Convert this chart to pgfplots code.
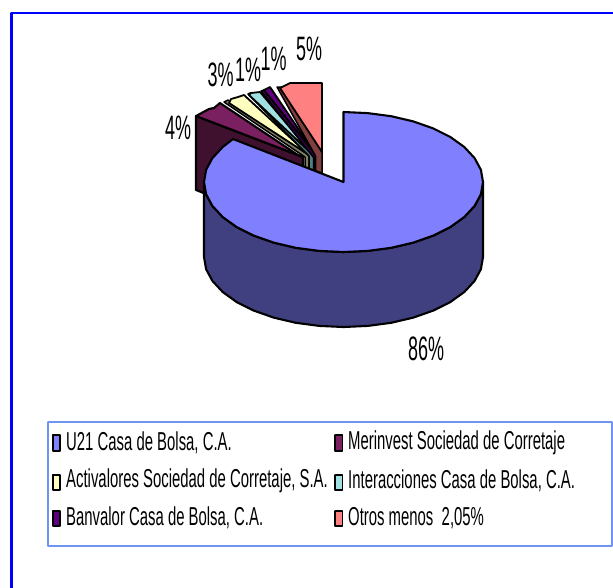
\documentclass[border=0pt]{standalone}
\usepackage{pgfplots}
\pgfplotsset{compat=1.18}
\usepackage{fontspec}
\setmainfont{Liberation Sans}
\newfontfamily\lab[FakeStretch=0.53]{Liberation Sans}
\newfontfamily\leg[FakeStretch=0.575]{Liberation Sans}
\definecolor{blueT}{HTML}{8080FF}
\definecolor{blueS}{HTML}{404080}
\definecolor{merT}{HTML}{7A1F5F}
\definecolor{merS}{HTML}{40102F}
\definecolor{actT}{HTML}{FFFFC0}
\definecolor{actS}{HTML}{808060}
\definecolor{intT}{HTML}{A0E0E0}
\definecolor{intS}{HTML}{508080}
\definecolor{banT}{HTML}{600080}
\definecolor{banS}{HTML}{300040}
\definecolor{otrT}{HTML}{FF8080}
\definecolor{otrS}{HTML}{804040}
\definecolor{legF}{HTML}{7094F5}
\begin{document}
\begin{tikzpicture}
\useasboundingbox (0,0) rectangle (613bp,-588bp);
\begin{axis}[at={(0,0)},anchor=north west,scale only axis,width=613bp,height=588bp,
  xmin=0,xmax=613,ymin=0,ymax=588,y dir=reverse,hide axis,
  every axis plot/.append style={no markers,line join=round,line cap=round}]
% outer frame
\addplot[draw=blue,line width=2.6pt] coordinates {(11.5,588) (11.5,13) (613,13)};
% Merinvest
\addplot[fill=merS,draw=black,line width=2.1pt] coordinates {(196,116) (196,190) (206,194) (303,172) (303,157) (196,116)};
\addplot[fill=merT,draw=black,line width=2.1pt] coordinates {(196,116) (209,109) (214,108) (220,103) (298,155) (303,157) (196,116)};
% Activalores
\addplot[fill=actS,draw=black,line width=1.5pt] coordinates {(224,102) (305,157) (305,170) (309,170) (309,155) (228,100) (224,102)};
\addplot[fill=actT,draw=black,line width=1.8pt] coordinates {(229,103) (231,99) (238,97) (244,95) (309,155) (229,103)};
% Interacciones
\addplot[fill=intS,draw=black,line width=1.5pt] coordinates {(248,94) (309,156) (309,172) (313.5,172) (313.5,155) (250,93) (248,94)};
\addplot[fill=intT,draw=black,line width=1.8pt] coordinates {(249,95) (251,93) (260,92) (313,155) (249,95)};
% Banvalor
\addplot[fill=banS,draw=black,line width=1.5pt] coordinates {(261,91) (314,158) (314,172) (316,172) (316,155) (270,88) (261,91)};
\addplot[fill=banT,draw=black,line width=1.8pt] coordinates {(264,90) (270,87) (316,155) (264,90)};
% Otros
\addplot[fill=otrS,draw=black,line width=1.5pt] coordinates {(277,87) (315.5,156) (315.5,171) (322,173) (322,152) (281,87) (277,87)};
\addplot[fill=otrT,draw=black,line width=1.8pt] coordinates {(280,88) (290,83) (322,83) (322,152) (280,88)};
% U21 side
\addplot[fill=blueS,draw=black,line width=2.1pt] coordinates {
 (483,182) (483,257) (480.9,269.2) (474.6,280.9) (464.3,292) (450.4,302) (433.2,310.6) (413.3,317.6) (391.2,322.8) (367.7,325.9) (343.5,327)
 (319.3,325.9) (295.8,322.8) (273.7,317.6) (253.8,310.6) (236.6,302) (222.7,292) (212.4,280.9) (206.1,269.2) (204,257) (204,182)
 (206.1,194.2) (212.4,205.9) (222.7,217) (236.6,227) (253.8,235.6) (273.7,242.6) (295.8,247.8) (319.3,250.9) (343.5,252)
 (367.7,250.9) (391.2,247.8) (413.3,242.6) (433.2,235.6) (450.4,227) (464.3,217) (474.6,205.9) (480.9,194.2) (483,182)};
% U21 top
\addplot[fill=blueT,draw=black,line width=2.1pt] coordinates {
 (343.5,182) (343.5,112) (367.7,113.1) (391.2,116.2) (413.3,121.4) (433.2,128.4) (450.4,137) (464.3,147) (474.6,158.1) (480.9,169.8) (483,182)
 (480.9,194.2) (474.6,205.9) (464.3,217) (450.4,227) (433.2,235.6) (413.3,242.6) (391.2,247.8) (367.7,250.9) (343.5,252)
 (319.3,250.9) (295.8,247.8) (273.7,242.6) (253.8,235.6) (236.6,227) (222.7,217) (212.4,205.9) (206.1,194.2) (204,182)
 (206.1,169.8) (212.4,158.1) (222.7,147) (233,139) (343.5,182)};
% legend frame
\addplot[draw=legF,line width=1.2pt] coordinates {(48,422) (612,422) (612,546) (48,546) (48,422)};
% legend swatches
\addplot[fill=blueT,draw=black,line width=1.8pt] coordinates {(52.7,435) (60,435) (60,451) (52.7,451) (52.7,435)};
\addplot[fill=actT,draw=black,line width=1.8pt] coordinates {(52.7,475) (60,475) (60,490) (52.7,490) (52.7,475)};
\addplot[fill=banT,draw=black,line width=1.8pt] coordinates {(52.7,511) (60,511) (60,526) (52.7,526) (52.7,511)};
\addplot[fill=merT,draw=black,line width=1.8pt] coordinates {(335,435) (342.5,435) (342.5,451) (335,451) (335,435)};
\addplot[fill=intT,draw=black,line width=1.8pt] coordinates {(335,475) (342.5,475) (342.5,490) (335,490) (335,475)};
\addplot[fill=otrT,draw=black,line width=1.8pt] coordinates {(335,511) (342.5,511) (342.5,526) (335,526) (335,511)};
% legend texts
\begin{scope}[every node/.style={anchor=west,inner sep=0pt,font=\fontsize{26}{26}\selectfont\leg}]
\node at (axis cs:66,443) {U21 Casa de Bolsa, C.A.};
\node at (axis cs:66,481) {Activalores Sociedad de Corretaje, S.A.};
\node at (axis cs:66,518) {Banvalor Casa de Bolsa, C.A.};
\node at (axis cs:348,443) {Merinvest Sociedad de Corretaje};
\node at (axis cs:348,481) {Interacciones Casa de Bolsa, C.A.};
\node at (axis cs:348,518) {Otros menos\ \ 2,05\%};
\end{scope}
% data labels
\begin{scope}[every node/.style={inner sep=0pt,font=\fontsize{34}{34}\selectfont\lab}]
\node at (axis cs:426,349) {86\%};
\node at (axis cs:178,128) {4\%};
\node at (axis cs:220.5,75) {3\%};
\node at (axis cs:248,70) {1\%};
\node at (axis cs:273.5,59) {1\%};
\node at (axis cs:309,49) {5\%};
\end{scope}
\end{axis}
\end{tikzpicture}
\end{document}
